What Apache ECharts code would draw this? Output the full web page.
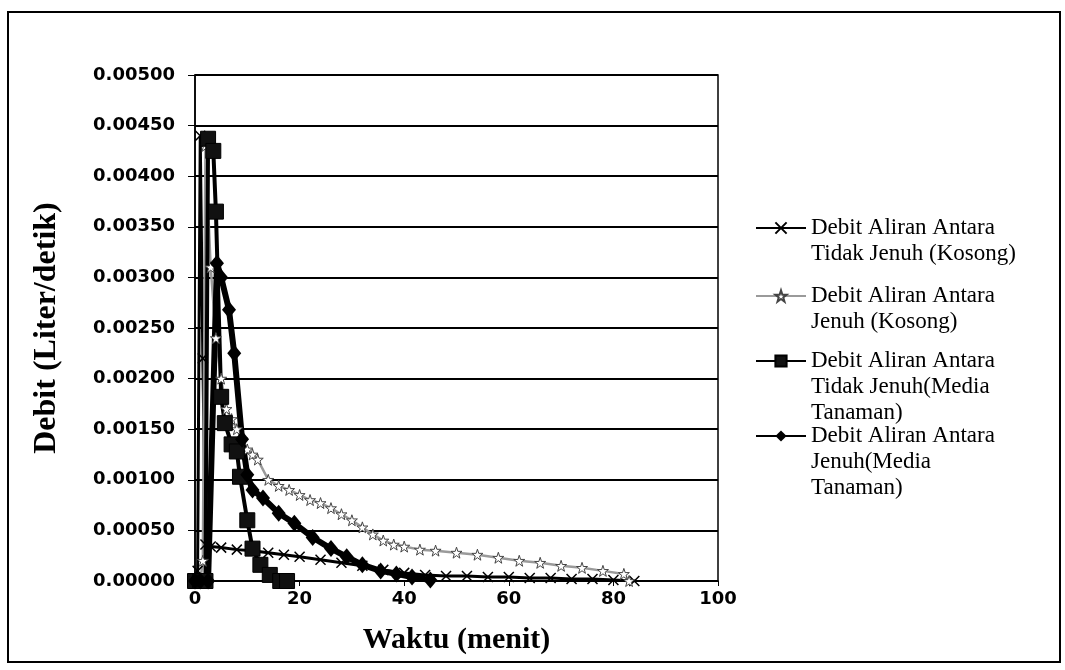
<!DOCTYPE html>
<html>
<head>
<meta charset="utf-8">
<script src="https://cdn.jsdelivr.net/npm/echarts@6/dist/echarts.min.js"></script>
<style>
  html, body { margin: 0; padding: 0; background: #fff; }
  #chart { width: 1065px; height: 670px; }
</style>
</head>
<body>
<div id="chart"></div>
<script>
  // waktu (menit) dan debit (liter/detik)
  var namaSeri = [
    'Debit Aliran Antara\nTidak Jenuh (Kosong)',
    'Debit Aliran Antara\nJenuh (Kosong)',
    'Debit Aliran Antara\nTidak Jenuh(Media\nTanaman)',
    'Debit Aliran Antara\nJenuh(Media\nTanaman)'
  ]

  var tTidakJenuhKosong = [0, 0.5, 1, 1.5, 2, 3, 5, 8, 11, 14, 17, 20, 24, 28, 32, 36, 40, 44, 48, 52, 56, 60, 64, 68, 72, 76, 80, 84]
  var vTidakJenuhKosong = [0, 0.0001, 0.0044, 0.0022, 0.00036, 0.00034, 0.00033, 0.00031, 0.0003, 0.00028, 0.00026, 0.00024, 0.00021, 0.00018, 0.00015, 0.00011, 0.00008, 0.00006, 0.00005, 0.00005, 0.00004, 0.00004, 0.00003, 0.00003, 0.00002, 0.00002, 0.00001, 0]

  var tJenuhKosong = [0, 1, 1.5, 2, 3, 4, 5, 6, 7, 8, 9, 10, 11, 12, 14, 16, 18, 20, 22, 24, 26, 28, 30, 32, 34, 36, 38, 40, 43, 46, 50, 54, 58, 62, 66, 70, 74, 78, 82, 83]
  var vJenuhKosong = [0, 0, 0.0002, 0.0043, 0.0031, 0.0024, 0.002, 0.0017, 0.0016, 0.0015, 0.0014, 0.0013, 0.00125, 0.0012, 0.001, 0.00094, 0.0009, 0.00085, 0.0008, 0.00077, 0.00072, 0.00066, 0.0006, 0.00053, 0.00046, 0.0004, 0.00036, 0.00034, 0.00031, 0.0003, 0.00028, 0.00026, 0.00023, 0.0002, 0.00018, 0.00015, 0.00013, 0.0001, 0.00007, 0]

  var tTidakJenuhMedia = [0, 1, 2, 2.5, 3.5, 4, 5, 5.7, 7, 8, 8.6, 10, 11, 12.5, 14.3, 16.3, 17.6]
  var vTidakJenuhMedia = [0, 0, 0, 0.00437, 0.00425, 0.00365, 0.00182, 0.00156, 0.00135, 0.00128, 0.00103, 0.0006, 0.00032, 0.00016, 0.00006, 0, 0]

  var tJenuhMedia = [0, 1, 2.5, 4.2, 5, 6.5, 7.5, 9, 10, 11, 13, 16, 19, 22.5, 26, 29, 32, 35.5, 38.5, 41.5, 45]
  var vJenuhMedia = [0, 0, 0, 0.00314, 0.003, 0.00268, 0.00225, 0.0014, 0.00105, 0.0009, 0.00082, 0.00067, 0.00057, 0.00043, 0.00032, 0.00024, 0.00016, 0.0001, 0.00007, 0.00004, 0.00001]

  var xTicks = [0, 20, 40, 60, 80, 100]
  var yMax = 0.005
  var yStep = 0.0005

  function pasang(t, v) {
    var out = []
    for (var i = 0; i < t.length; i++) {
      out.push([t[i], v[i]])
    }
    return out
  }

  var simbolX = 'path://M0,0 L10,10 M10,0 L0,10'
  var simbolBintang = 'path://M5,0 L6.2,3.6 L10,3.6 L7,5.9 L8.1,9.5 L5,7.3 L1.9,9.5 L3,5.9 L0,3.6 L3.8,3.6 Z'

  var chart = echarts.init(document.getElementById('chart'))

  var fontSerif = '"Liberation Serif", "Times New Roman", serif'
  var fontAngka = '"DejaVu Sans", sans-serif'

  // satu legend per seri, supaya ikon sejajar dengan baris pertama teks
  var legendTop = [189, 257, 296, 371]
  var legends = namaSeri.map(function (nm, i) {
    var baris = nm.split('\n').length
    return {
      data: [nm],
      orient: 'vertical',
      left: 755,
      top: legendTop[i],
      padding: 0,
      itemWidth: 50,
      itemHeight: 14,
      selectedMode: false,
      formatter: function (name) {
        return new Array(baris).join('\n') + name
      },
      textStyle: {
        fontFamily: fontSerif,
        fontSize: 23,
        lineHeight: 26,
        color: '#000'
      }
    }
  })

  var option = {
    backgroundColor: '#fff',
    animation: false,
    legend: legends,
    graphic: [{
      type: 'rect',
      shape: { x: 8, y: 12, width: 1052, height: 650 },
      style: { fill: 'none', stroke: '#000', lineWidth: 2 }
    }],
    grid: {
      left: 195,
      right: 347,
      top: 75,
      bottom: 89,
      show: true,
      borderColor: '#000',
      borderWidth: 1.5
    },
    xAxis: {
      type: 'value',
      min: 0,
      max: 100,
      interval: 20,
      name: 'Waktu (menit)',
      nameLocation: 'middle',
      nameGap: 44,
      nameTextStyle: {
        fontFamily: fontSerif,
        fontWeight: 'bold',
        fontSize: 30,
        color: '#000'
      },
      axisLine: { lineStyle: { color: '#000', width: 1.5 } },
      axisTick: { show: true, length: 5, lineStyle: { color: '#000' } },
      axisLabel: {
        margin: 9,
        fontFamily: fontAngka,
        fontWeight: 'bold',
        fontSize: 18,
        color: '#000',
        formatter: function (v) {
          return xTicks.indexOf(v) >= 0 ? String(v) : ''
        }
      },
      splitLine: { show: false }
    },
    yAxis: {
      type: 'value',
      min: 0,
      max: yMax,
      interval: yStep,
      name: 'Debit (Liter/detik)',
      nameLocation: 'middle',
      nameGap: 132,
      nameTextStyle: {
        fontFamily: fontSerif,
        fontWeight: 'bold',
        fontSize: 32,
        color: '#000'
      },
      axisLine: { show: true, lineStyle: { color: '#000', width: 1.5 } },
      axisTick: { show: true, length: 7, lineStyle: { color: '#000' } },
      axisLabel: {
        margin: 20,
        fontFamily: fontAngka,
        fontWeight: 'bold',
        fontSize: 18,
        color: '#000',
        formatter: function (v) { return v.toFixed(5) }
      },
      splitLine: { show: true, lineStyle: { color: '#000', width: 2 } }
    },
    series: [
      {
        name: namaSeri[0],
        type: 'line',
        data: pasang(tTidakJenuhKosong, vTidakJenuhKosong),
        symbol: simbolX,
        symbolSize: 10,
        lineStyle: { color: '#000', width: 3 },
        itemStyle: { color: '#000', borderColor: '#000', borderWidth: 1.5 }
      },
      {
        name: namaSeri[1],
        type: 'line',
        data: pasang(tJenuhKosong, vJenuhKosong),
        symbol: simbolBintang,
        symbolSize: 11,
        lineStyle: { color: '#9a9a9a', width: 2.5 },
        itemStyle: { color: '#fff', borderColor: '#444', borderWidth: 1 }
      },
      {
        name: namaSeri[2],
        type: 'line',
        data: pasang(tTidakJenuhMedia, vTidakJenuhMedia),
        symbol: 'rect',
        symbolSize: 15,
        lineStyle: { color: '#000', width: 4 },
        itemStyle: { color: '#111', borderColor: '#000', borderWidth: 1 }
      },
      {
        name: namaSeri[3],
        type: 'line',
        data: pasang(tJenuhMedia, vJenuhMedia),
        symbol: 'diamond',
        symbolSize: [14, 17],
        lineStyle: { color: '#000', width: 6 },
        itemStyle: { color: '#000' }
      }
    ]
  }

  chart.setOption(option)
</script>
</body>
</html>
